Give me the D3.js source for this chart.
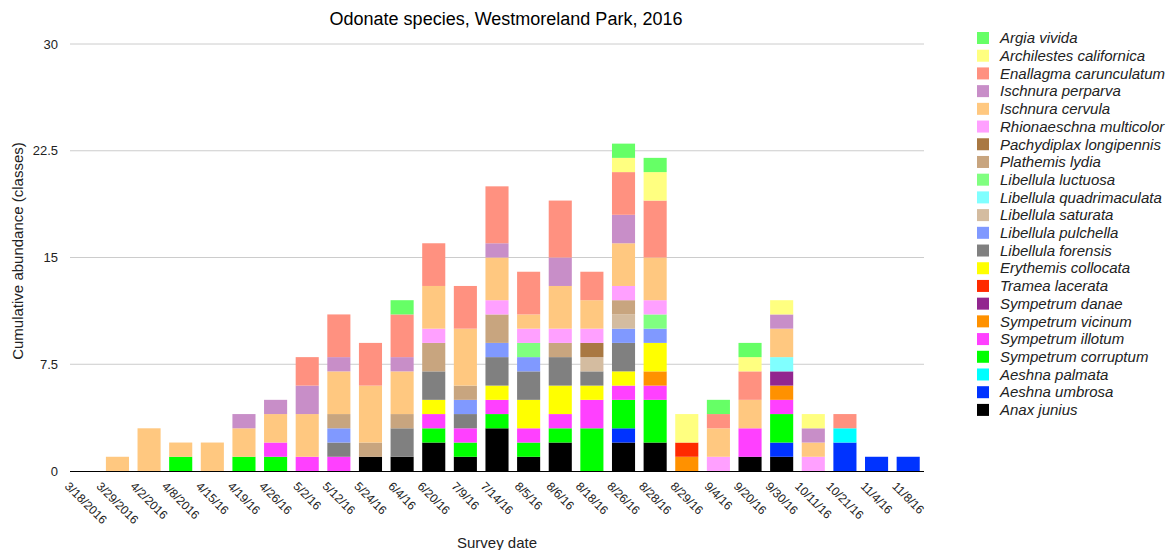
<!DOCTYPE html>
<html>
<head>
<meta charset="utf-8">
<script src="https://cdn.jsdelivr.net/npm/d3@7"></script>
<style>
  html, body { margin: 0; padding: 0; background: #fff; }
  svg { display: block; font-family: "Liberation Sans", Arial, sans-serif; }
</style>
</head>
<body>
<svg id="chart" width="1170" height="550"></svg>
<script>
// Survey dates (x categories)
const dates = ["3/18/2016","3/29/2016","4/2/2016","4/8/2016","4/15/16","4/19/16","4/26/16","5/2/16","5/12/16","5/24/16","6/4/16","6/20/16","7/9/16","7/14/16","8/5/16","8/6/16","8/18/16","8/26/16","8/28/16","8/29/16","9/4/16","9/20/16","9/30/16","10/11/16","10/21/16","11/4/16","11/8/16"];

// Abundance classes per species, one value per survey date
const argiaVivida            = [0,0,0,0,0,0,0,0,0,0,1,0,0,0,0,0,0,1,1,0,1,1,0,0,0,0,0];
const archilestesCalifornica = [0,0,0,0,0,0,0,0,0,0,0,0,0,0,0,0,0,1,2,2,0,1,1,1,0,0,0];
const enallagmaCarunculatum  = [0,0,0,0,0,0,0,2,3,3,3,3,3,4,3,4,2,3,4,0,1,2,0,0,1,0,0];
const ischnuraPerparva       = [0,0,0,0,0,1,1,2,1,0,1,0,0,1,0,2,0,2,0,0,0,0,1,1,0,0,0];
const ischnuraCervula        = [0,1,3,1,2,2,2,3,3,4,3,3,4,3,1,3,2,3,3,0,2,2,2,1,0,0,0];
const rhionaeschnaMulticolor = [0,0,0,0,0,0,0,0,0,0,0,1,0,1,1,1,1,1,1,0,1,0,0,1,0,0,0];
const pachydiplaxLongipennis = [0,0,0,0,0,0,0,0,0,0,0,0,0,0,0,0,1,0,0,0,0,0,0,0,0,0,0];
const plathemisLydia         = [0,0,0,0,0,0,0,0,1,1,1,2,1,2,0,1,0,1,0,0,0,0,0,0,0,0,0];
const libellulaLuctuosa      = [0,0,0,0,0,0,0,0,0,0,0,0,0,0,1,0,0,0,1,0,0,0,0,0,0,0,0];
const libellulaQuadrimaculata= [0,0,0,0,0,0,0,0,0,0,0,0,0,0,0,0,0,0,0,0,0,0,1,0,0,0,0];
const libellulaSaturata      = [0,0,0,0,0,0,0,0,0,0,0,0,0,0,0,0,1,1,0,0,0,0,0,0,0,0,0];
const libellulaPulchella     = [0,0,0,0,0,0,0,0,1,0,0,0,1,1,1,0,0,1,1,0,0,0,0,0,0,0,0];
const libellulaForensis      = [0,0,0,0,0,0,0,0,1,0,2,2,1,2,2,2,1,2,0,0,0,0,0,0,0,0,0];
const erythemisCollocata     = [0,0,0,0,0,0,0,0,0,0,0,1,0,1,2,2,1,1,2,0,0,0,0,0,0,0,0];
const trameaLacerata         = [0,0,0,0,0,0,0,0,0,0,0,0,0,0,0,0,0,0,0,1,0,0,0,0,0,0,0];
const sympetrumDanae         = [0,0,0,0,0,0,0,0,0,0,0,0,0,0,0,0,0,0,0,0,0,0,1,0,0,0,0];
const sympetrumVicinum       = [0,0,0,0,0,0,0,0,0,0,0,0,0,0,0,0,0,0,1,1,0,0,1,0,0,0,0];
const sympetrumIllotum       = [0,0,0,0,0,0,1,1,1,0,0,1,1,1,1,1,2,1,1,0,0,2,1,0,0,0,0];
const sympetrumCorruptum     = [0,0,0,1,0,1,1,0,0,0,0,1,1,1,1,1,3,2,3,0,0,0,2,0,0,0,0];
const aeshnaPalmata          = [0,0,0,0,0,0,0,0,0,0,0,0,0,0,0,0,0,0,0,0,0,0,0,0,1,0,0];
const aeshnaUmbrosa          = [0,0,0,0,0,0,0,0,0,0,0,0,0,0,0,0,0,1,0,0,0,0,1,0,2,1,1];
const anaxJunius             = [0,0,0,0,0,0,0,0,0,1,1,2,1,3,1,2,0,2,2,0,0,1,1,0,0,0,0];

// Y axis tick values
const yTicks = [0, 7.5, 15, 22.5, 30];

// Series in legend order (top of legend = top of stack)
const species = [
  { name: "Argia vivida",             values: argiaVivida,             color: "#66ff66" },
  { name: "Archilestes californica",  values: archilestesCalifornica,  color: "#ffff80" },
  { name: "Enallagma carunculatum",   values: enallagmaCarunculatum,   color: "#ff9180" },
  { name: "Ischnura perparva",        values: ischnuraPerparva,        color: "#c88ec8" },
  { name: "Ischnura cervula",         values: ischnuraCervula,         color: "#ffc880" },
  { name: "Rhionaeschna multicolor",  values: rhionaeschnaMulticolor,  color: "#ffa0ff" },
  { name: "Pachydiplax longipennis",  values: pachydiplaxLongipennis,  color: "#a97842" },
  { name: "Plathemis lydia",          values: plathemisLydia,          color: "#c8a57f" },
  { name: "Libellula luctuosa",       values: libellulaLuctuosa,       color: "#80ff80" },
  { name: "Libellula quadrimaculata", values: libellulaQuadrimaculata, color: "#80ffff" },
  { name: "Libellula saturata",       values: libellulaSaturata,       color: "#d4bca0" },
  { name: "Libellula pulchella",      values: libellulaPulchella,      color: "#8099ff" },
  { name: "Libellula forensis",       values: libellulaForensis,       color: "#808080" },
  { name: "Erythemis collocata",      values: erythemisCollocata,      color: "#ffff00" },
  { name: "Tramea lacerata",          values: trameaLacerata,          color: "#ff2a00" },
  { name: "Sympetrum danae",          values: sympetrumDanae,          color: "#92268f" },
  { name: "Sympetrum vicinum",        values: sympetrumVicinum,        color: "#ff9100" },
  { name: "Sympetrum illotum",        values: sympetrumIllotum,        color: "#ff40ff" },
  { name: "Sympetrum corruptum",      values: sympetrumCorruptum,      color: "#00ff00" },
  { name: "Aeshna palmata",           values: aeshnaPalmata,           color: "#00ffff" },
  { name: "Aeshna umbrosa",           values: aeshnaUmbrosa,           color: "#0033ff" },
  { name: "Anax junius",              values: anaxJunius,              color: "#000000" }
];

const svg = d3.select("#chart");
const plot = { left: 70, right: 924, top: 44, bottom: 471 };

const x = d3.scaleBand()
  .domain(dates)
  .range([plot.left, plot.right])
  .paddingInner(0.27)
  .paddingOuter(0.135);

const y = d3.scaleLinear()
  .domain([0, 30])
  .range([plot.bottom, plot.top]);

// Build a row per date for d3.stack; stack bottom-up = reverse legend order
const stackOrder = species.slice().reverse();
const rows = dates.map((d, i) => {
  const r = { date: d };
  stackOrder.forEach(s => { r[s.name] = s.values[i]; });
  return r;
});
const stacked = d3.stack().keys(stackOrder.map(s => s.name))(rows);
const colorOf = new Map(species.map(s => [s.name, s.color]));

// Gridlines
svg.append("g")
  .selectAll("line")
  .data(yTicks.filter(t => t > 0))
  .join("line")
  .attr("x1", plot.left).attr("x2", plot.right)
  .attr("y1", d => y(d)).attr("y2", d => y(d))
  .attr("stroke", "#cccccc")
  .attr("stroke-width", 1);

// Y tick labels
svg.append("g")
  .selectAll("text")
  .data(yTicks)
  .join("text")
  .attr("x", 58)
  .attr("y", d => y(d))
  .attr("dy", "0.35em")
  .attr("text-anchor", "end")
  .attr("font-size", 13)
  .attr("fill", "#222")
  .text(d => d);

// Bars
svg.append("g")
  .selectAll("g")
  .data(stacked)
  .join("g")
  .attr("fill", d => colorOf.get(d.key))
  .selectAll("rect")
  .data(d => d.filter(p => p[1] - p[0] > 0))
  .join("rect")
  .attr("x", p => x(p.data.date))
  .attr("width", x.bandwidth())
  .attr("y", p => y(p[1]))
  .attr("height", p => y(p[0]) - y(p[1]));

// Baseline
svg.append("line")
  .attr("x1", plot.left).attr("x2", plot.right)
  .attr("y1", plot.bottom + 0.5).attr("y2", plot.bottom + 0.5)
  .attr("stroke", "#000").attr("stroke-width", 1.2);

// Slanted date labels
const xl = svg.append("g")
  .selectAll("text")
  .data(dates)
  .join("text")
  .attr("text-anchor", "middle")
  .attr("dominant-baseline", "central")
  .attr("font-size", 12)
  .attr("fill", "#222")
  .text(d => d);
xl.each(function(d) {
  const L = this.getComputedTextLength();
  const cx = x(d) + x.bandwidth() / 2;
  const cy = 481 + (L + 9) * Math.SQRT1_2 / 2;
  d3.select(this).attr("transform", `translate(${cx},${cy}) rotate(45)`);
});

// Title
svg.append("text")
  .attr("x", 506).attr("y", 25)
  .attr("text-anchor", "middle")
  .attr("font-size", 18)
  .attr("fill", "#000")
  .text("Odonate species, Westmoreland Park, 2016");

// Axis titles
svg.append("text")
  .attr("transform", "translate(23,251) rotate(-90)")
  .attr("text-anchor", "middle")
  .attr("font-size", 15)
  .attr("fill", "#222")
  .text("Cumulative abundance (classes)");

svg.append("text")
  .attr("x", 497).attr("y", 548)
  .attr("text-anchor", "middle")
  .attr("font-size", 15)
  .attr("fill", "#222")
  .text("Survey date");

// Legend
const legend = svg.append("g")
  .selectAll("g")
  .data(species)
  .join("g")
  .attr("transform", (d, i) => `translate(977,${32 + i * 17.71})`);
legend.append("rect")
  .attr("width", 12).attr("height", 12)
  .attr("fill", d => d.color);
legend.append("text")
  .attr("x", 23).attr("y", 6)
  .attr("dy", "0.35em")
  .attr("font-size", 15)
  .attr("font-style", "italic")
  .attr("fill", "#222")
  .text(d => d.name);
</script>
</body>
</html>
